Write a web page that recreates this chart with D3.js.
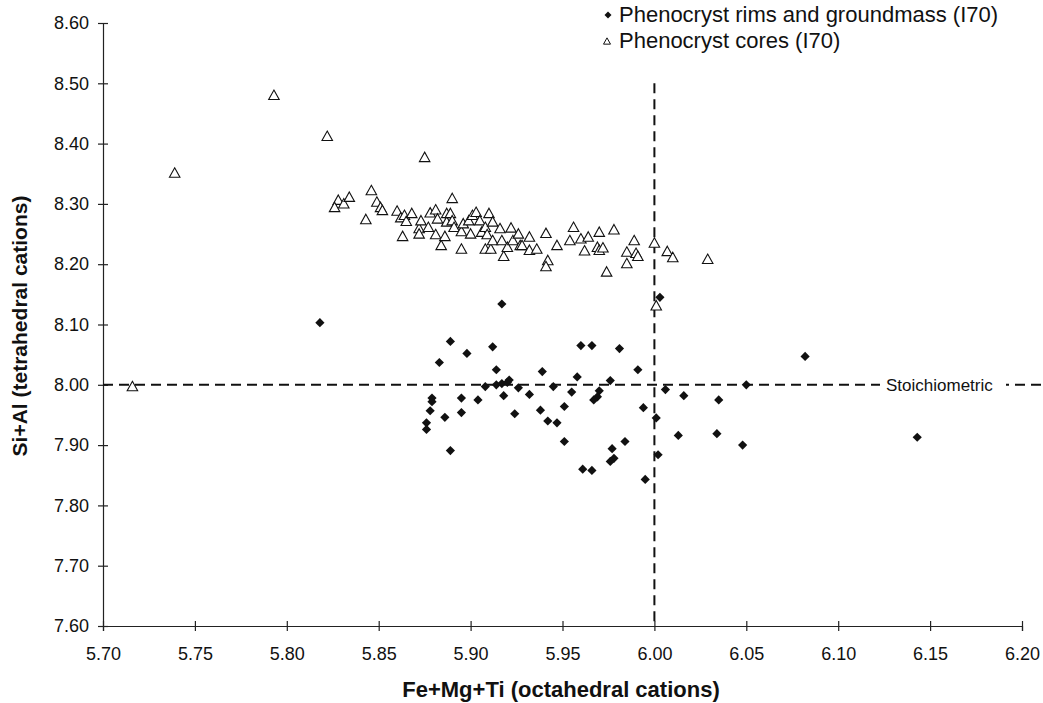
<!DOCTYPE html>
<html>
<head>
<meta charset="utf-8">
<script src="https://cdn.jsdelivr.net/npm/d3@7"></script>
<style>
  body { margin: 0; background: #fff; }
  text { font-family: Arial, "Liberation Sans", sans-serif; fill: #111; }
</style>
</head>
<body>
<div id="chart"></div>
<script>
// Fe+Mg+Ti (octahedral) vs Si+Al (tetrahedral) cations
var rimsPoints = [
  [5.818,8.103],[5.889,8.072],[5.898,8.052],[5.883,8.037],[5.879,7.978],[5.879,7.972],
  [5.895,7.978],[5.904,7.975],[5.878,7.957],[5.895,7.954],[5.886,7.946],[5.917,8.134],
  [6.003,8.145],[5.912,8.063],[5.960,8.065],[5.966,8.065],[5.981,8.060],[5.914,8.025],
  [5.939,8.022],[5.958,8.013],[5.976,8.007],[5.991,8.025],[5.908,7.997],[5.914,8.000],
  [5.917,8.002],[5.920,8.004],[5.921,8.008],[5.926,7.995],[5.945,7.997],[5.918,7.982],
  [5.932,7.984],[5.955,7.988],[5.970,7.990],[5.969,7.980],[5.967,7.975],[6.006,7.992],
  [5.994,7.962],[5.924,7.952],[5.938,7.958],[5.951,7.964],[6.001,7.945],[6.016,7.982],
  [5.942,7.940],[5.947,7.937],[5.876,7.937],[5.876,7.926],[5.889,7.891],[5.951,7.906],
  [6.013,7.916],[5.984,7.906],[5.977,7.894],[5.978,7.878],[5.976,7.873],[5.961,7.860],
  [5.966,7.858],[5.995,7.843],[6.002,7.884],[6.034,7.919],[6.048,7.900],[6.143,7.913],
  [6.035,7.975],[6.050,8.000],[6.082,8.047]
];

var coresPoints = [
  [5.716,7.998],[5.739,8.352],[5.793,8.481],[5.822,8.413],[5.875,8.378],
  [5.828,8.307],[5.826,8.295],[5.831,8.301],[5.834,8.312],[5.846,8.323],[5.843,8.275],
  [5.849,8.304],[5.851,8.295],[5.852,8.290],[5.860,8.289],[5.862,8.278],[5.864,8.282],
  [5.865,8.272],[5.868,8.285],[5.863,8.247],[5.872,8.260],[5.873,8.273],[5.872,8.251],
  [5.877,8.262],[5.878,8.286],[5.881,8.291],[5.882,8.276],[5.881,8.250],[5.884,8.232],
  [5.886,8.247],[5.887,8.285],[5.887,8.271],[5.889,8.285],[5.890,8.273],[5.890,8.310],
  [5.891,8.262],[5.895,8.255],[5.895,8.226],[5.896,8.268],[5.899,8.273],[5.900,8.251],
  [5.901,8.282],[5.903,8.287],[5.905,8.273],[5.906,8.254],[5.908,8.262],[5.909,8.250],
  [5.910,8.285],[5.912,8.271],[5.908,8.226],[5.911,8.226],[5.912,8.240],[5.916,8.260],
  [5.917,8.240],[5.918,8.214],[5.920,8.229],[5.922,8.261],[5.923,8.240],[5.926,8.251],
  [5.927,8.232],[5.928,8.232],[5.932,8.246],[5.932,8.224],[5.936,8.226],[5.941,8.252],
  [5.942,8.207],[5.941,8.197],[5.947,8.232],[5.956,8.262],[5.954,8.240],[5.960,8.243],
  [5.964,8.246],[5.970,8.254],[5.978,8.258],[5.962,8.223],[5.969,8.229],[5.970,8.224],
  [5.972,8.228],[5.974,8.188],[5.989,8.240],[5.985,8.221],[5.990,8.219],[5.991,8.214],
  [5.985,8.202],[6.000,8.236],[6.007,8.222],[6.010,8.212],[6.001,8.132],[6.029,8.209]
];

var xTicks = [5.70,5.75,5.80,5.85,5.90,5.95,6.00,6.05,6.10,6.15,6.20];
var yTicks = [7.60,7.70,7.80,7.90,8.00,8.10,8.20,8.30,8.40,8.50,8.60];
var legendLabels = ["Phenocryst rims and groundmass (I70)", "Phenocryst cores (I70)"];
var stoichX = 6.00, stoichY = 8.00;

var width = 1043,
    height = 703;

var svg = d3.select("#chart").append("svg")
  .attr("width", width)
  .attr("height", height);

var x = d3.scaleLinear().domain([5.70, 6.20]).range([103, 1022]);
var y = d3.scaleLinear().domain([7.60, 8.60]).range([626, 23]);

// marker paths
function diamond(s) {
  return "M0," + (-s) + "L" + s + ",0L0," + s + "L" + (-s) + ",0Z";
}
function triangle(w) {
  var h = w * 0.9;
  return "M0," + (-h / 2) + "L" + (w / 2) + "," + (h / 2) + "L" + (-w / 2) + "," + (h / 2) + "Z";
}

// axes
var xAxis = svg.append("g")
  .attr("transform", "translate(0," + y(7.60) + ")")
  .call(d3.axisBottom(x).tickValues(xTicks).tickFormat(d3.format(".2f"))
    .tickSizeOuter(0).tickSize(5).tickPadding(16));
xAxis.selectAll(".tick line").attr("y1", -5).attr("y2", 5);

var yAxis = svg.append("g")
  .attr("transform", "translate(" + x(5.70) + ",0)")
  .call(d3.axisLeft(y).tickValues(yTicks).tickFormat(d3.format(".2f"))
    .tickSizeOuter(0).tickSize(5).tickPadding(9));
yAxis.selectAll(".tick line").attr("x1", -5).attr("x2", 5);

svg.selectAll(".domain, .tick line").attr("stroke", "#222").attr("stroke-width", 1.2);
svg.selectAll(".tick text").style("font-size", "18px").style("font-family", "Arial, 'Liberation Sans', sans-serif").attr("fill", "#111");

// reference lines
svg.append("line")
  .attr("x1", x(5.70)).attr("x2", x(6.215))
  .attr("y1", y(stoichY)).attr("y2", y(stoichY))
  .attr("stroke", "#111").attr("stroke-width", 2)
  .attr("stroke-dasharray", "10,6");

svg.append("line")
  .attr("x1", x(stoichX)).attr("x2", x(stoichX))
  .attr("y1", y(8.50)).attr("y2", y(7.60))
  .attr("stroke", "#111").attr("stroke-width", 2)
  .attr("stroke-dasharray", "10,6");

var stoich = svg.append("g");
stoich.append("rect")
  .attr("x", 880).attr("y", y(stoichY) - 10)
  .attr("width", 126).attr("height", 20)
  .attr("fill", "#fff");
stoich.append("text")
  .attr("x", 886).attr("y", y(stoichY) + 6)
  .style("font-size", "17px")
  .text("Stoichiometric");

// points
svg.append("g").selectAll("path")
  .data(coresPoints)
  .enter().append("path")
  .attr("d", triangle(10.5))
  .attr("transform", function(d) { return "translate(" + x(d[0]) + "," + y(d[1]) + ")"; })
  .attr("fill", "#fff")
  .attr("stroke", "#111")
  .attr("stroke-width", 1.1);

svg.append("g").selectAll("path")
  .data(rimsPoints)
  .enter().append("path")
  .attr("d", diamond(4.6))
  .attr("transform", function(d) { return "translate(" + x(d[0]) + "," + y(d[1]) + ")"; })
  .attr("fill", "#111");

// legend
var legend = svg.append("g");
legend.append("path")
  .attr("d", diamond(3.5))
  .attr("transform", "translate(608,15)")
  .attr("fill", "#111");
legend.append("path")
  .attr("d", triangle(7))
  .attr("transform", "translate(607,41)")
  .attr("fill", "#fff").attr("stroke", "#111").attr("stroke-width", 1);
legend.selectAll("text")
  .data(legendLabels)
  .enter().append("text")
  .attr("x", 619)
  .attr("y", function(d, i) { return 22 + i * 26; })
  .style("font-size", "22px")
  .text(function(d) { return d; });

// axis titles
svg.append("text")
  .attr("x", 561).attr("y", 697)
  .attr("text-anchor", "middle")
  .style("font-size", "22px").style("font-weight", "bold")
  .text("Fe+Mg+Ti (octahedral cations)");

svg.append("text")
  .attr("transform", "translate(27,326) rotate(-90)")
  .attr("text-anchor", "middle")
  .style("font-size", "21px").style("font-weight", "bold")
  .text("Si+Al (tetrahedral cations)");
</script>
</body>
</html>
